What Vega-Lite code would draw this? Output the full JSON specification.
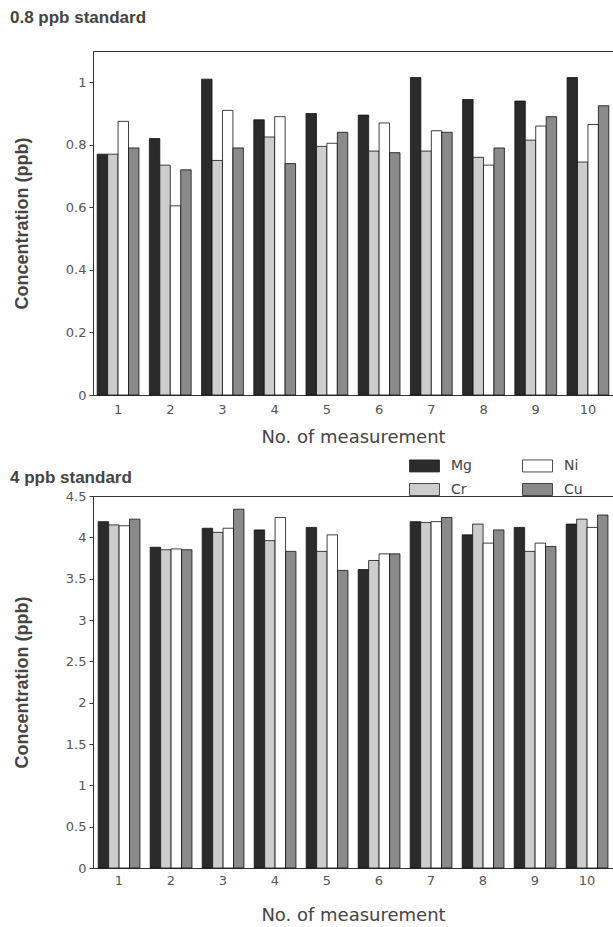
{
  "$schema": "https://vega.github.io/schema/vega-lite/v6.json",
  "autosize": {"type": "pad"},
  "padding": {"left": 9, "top": 8, "right": 0, "bottom": 5},
  "background": "white",
  "spacing": 101,
  "bounds": "flush",
  "resolve": {"scale": {"fill": "independent"}, "legend": {"fill": "independent"}},
  "config": {
    "font": "Liberation Sans",
    "view": {"stroke": "#333", "strokeWidth": 1},
    "axis": {"labelFont": "DejaVu Sans", "titleFont": "Liberation Sans", "labelColor": "#555", "titleColor": "#444", "domainColor": "#333", "tickColor": "#333", "grid": false},
    "title": {"font": "Liberation Sans", "fontSize": 17, "fontWeight": "bold", "color": "#444", "anchor": "start", "frame": "group"}
  },
  "datasets": {
    "low": [
      {"m": 1, "el": "Mg", "v": 0.77}, {"m": 1, "el": "Cr", "v": 0.77}, {"m": 1, "el": "Ni", "v": 0.875}, {"m": 1, "el": "Cu", "v": 0.79},
      {"m": 2, "el": "Mg", "v": 0.82}, {"m": 2, "el": "Cr", "v": 0.735}, {"m": 2, "el": "Ni", "v": 0.605}, {"m": 2, "el": "Cu", "v": 0.72},
      {"m": 3, "el": "Mg", "v": 1.01}, {"m": 3, "el": "Cr", "v": 0.75}, {"m": 3, "el": "Ni", "v": 0.91}, {"m": 3, "el": "Cu", "v": 0.79},
      {"m": 4, "el": "Mg", "v": 0.88}, {"m": 4, "el": "Cr", "v": 0.825}, {"m": 4, "el": "Ni", "v": 0.89}, {"m": 4, "el": "Cu", "v": 0.74},
      {"m": 5, "el": "Mg", "v": 0.90}, {"m": 5, "el": "Cr", "v": 0.795}, {"m": 5, "el": "Ni", "v": 0.805}, {"m": 5, "el": "Cu", "v": 0.84},
      {"m": 6, "el": "Mg", "v": 0.895}, {"m": 6, "el": "Cr", "v": 0.78}, {"m": 6, "el": "Ni", "v": 0.87}, {"m": 6, "el": "Cu", "v": 0.775},
      {"m": 7, "el": "Mg", "v": 1.015}, {"m": 7, "el": "Cr", "v": 0.78}, {"m": 7, "el": "Ni", "v": 0.845}, {"m": 7, "el": "Cu", "v": 0.84},
      {"m": 8, "el": "Mg", "v": 0.945}, {"m": 8, "el": "Cr", "v": 0.76}, {"m": 8, "el": "Ni", "v": 0.735}, {"m": 8, "el": "Cu", "v": 0.79},
      {"m": 9, "el": "Mg", "v": 0.94}, {"m": 9, "el": "Cr", "v": 0.815}, {"m": 9, "el": "Ni", "v": 0.86}, {"m": 9, "el": "Cu", "v": 0.89},
      {"m": 10, "el": "Mg", "v": 1.015}, {"m": 10, "el": "Cr", "v": 0.745}, {"m": 10, "el": "Ni", "v": 0.865}, {"m": 10, "el": "Cu", "v": 0.925}
    ],
    "high": [
      {"m": 1, "el": "Mg", "v": 4.19}, {"m": 1, "el": "Cr", "v": 4.15}, {"m": 1, "el": "Ni", "v": 4.14}, {"m": 1, "el": "Cu", "v": 4.22},
      {"m": 2, "el": "Mg", "v": 3.88}, {"m": 2, "el": "Cr", "v": 3.85}, {"m": 2, "el": "Ni", "v": 3.86}, {"m": 2, "el": "Cu", "v": 3.85},
      {"m": 3, "el": "Mg", "v": 4.11}, {"m": 3, "el": "Cr", "v": 4.06}, {"m": 3, "el": "Ni", "v": 4.11}, {"m": 3, "el": "Cu", "v": 4.34},
      {"m": 4, "el": "Mg", "v": 4.09}, {"m": 4, "el": "Cr", "v": 3.96}, {"m": 4, "el": "Ni", "v": 4.24}, {"m": 4, "el": "Cu", "v": 3.83},
      {"m": 5, "el": "Mg", "v": 4.12}, {"m": 5, "el": "Cr", "v": 3.83}, {"m": 5, "el": "Ni", "v": 4.03}, {"m": 5, "el": "Cu", "v": 3.60},
      {"m": 6, "el": "Mg", "v": 3.61}, {"m": 6, "el": "Cr", "v": 3.72}, {"m": 6, "el": "Ni", "v": 3.80}, {"m": 6, "el": "Cu", "v": 3.80},
      {"m": 7, "el": "Mg", "v": 4.19}, {"m": 7, "el": "Cr", "v": 4.18}, {"m": 7, "el": "Ni", "v": 4.19}, {"m": 7, "el": "Cu", "v": 4.24},
      {"m": 8, "el": "Mg", "v": 4.03}, {"m": 8, "el": "Cr", "v": 4.16}, {"m": 8, "el": "Ni", "v": 3.93}, {"m": 8, "el": "Cu", "v": 4.09},
      {"m": 9, "el": "Mg", "v": 4.12}, {"m": 9, "el": "Cr", "v": 3.83}, {"m": 9, "el": "Ni", "v": 3.93}, {"m": 9, "el": "Cu", "v": 3.89},
      {"m": 10, "el": "Mg", "v": 4.16}, {"m": 10, "el": "Cr", "v": 4.22}, {"m": 10, "el": "Ni", "v": 4.12}, {"m": 10, "el": "Cu", "v": 4.27}
    ]
  },
  "vconcat": [
    {
      "width": 520,
      "height": 344,
      "title": {"text": "0.8 ppb standard", "dx": -83, "offset": 24},
      "data": {"name": "low"},
      "mark": {"type": "bar", "stroke": "#111", "strokeWidth": 0.8},
      "encoding": {
        "x": {"field": "m", "type": "ordinal", "scale": {"paddingInner": 0.2, "paddingOuter": 0.08},
              "axis": {"title": "No. of measurement", "labelAngle": 0, "ticks": false, "labelPadding": 8, "labelFontSize": 13, "titleFont": "DejaVu Sans", "titleFontSize": 18, "titleFontWeight": "normal", "titlePadding": 12}},
        "xOffset": {"field": "el", "type": "nominal", "scale": {"domain": ["Mg", "Cr", "Ni", "Cu"], "paddingInner": 0}},
        "y": {"field": "v", "type": "quantitative", "scale": {"domain": [0, 1.1], "nice": false},
              "axis": {"title": "Concentration (ppb)", "values": [0, 0.2, 0.4, 0.6, 0.8, 1], "format": "~g", "tickSize": 4, "labelPadding": 3, "labelFontSize": 13, "titleFontSize": 18, "titleFontWeight": "bold", "titlePadding": 34}},
        "fill": {"field": "el", "type": "nominal", "scale": {"domain": ["Mg", "Cr", "Ni", "Cu"], "range": ["#2b2b2b", "#cdcdcd", "#ffffff", "#8a8a8a"]}, "legend": null}
      }
    },
    {
      "width": 520,
      "height": 372,
      "title": {"text": "4 ppb standard", "dx": -83, "offset": -37},
      "data": {"name": "high"},
      "mark": {"type": "bar", "stroke": "#111", "strokeWidth": 0.8},
      "encoding": {
        "x": {"field": "m", "type": "ordinal", "scale": {"paddingInner": 0.2, "paddingOuter": 0.1},
              "axis": {"title": "No. of measurement", "labelAngle": 0, "ticks": false, "labelPadding": 6, "labelFontSize": 13, "titleFont": "DejaVu Sans", "titleFontSize": 18, "titleFontWeight": "normal", "titlePadding": 19}},
        "xOffset": {"field": "el", "type": "nominal", "scale": {"domain": ["Mg", "Cr", "Ni", "Cu"], "paddingInner": 0}},
        "y": {"field": "v", "type": "quantitative", "scale": {"domain": [0, 4.5], "nice": false},
              "axis": {"title": "Concentration (ppb)", "values": [0, 0.5, 1, 1.5, 2, 2.5, 3, 3.5, 4, 4.5], "format": "~g", "tickSize": 4, "labelPadding": 3, "labelFontSize": 13, "titleFontSize": 18, "titleFontWeight": "bold", "titlePadding": 34}},
        "fill": {"field": "el", "type": "nominal", "scale": {"domain": ["Mg", "Cr", "Ni", "Cu"], "range": ["#2b2b2b", "#cdcdcd", "#ffffff", "#8a8a8a"]},
                 "legend": {"title": null, "orient": "none", "legendX": 316, "legendY": -46, "direction": "horizontal", "columns": 2, "values": ["Mg", "Ni", "Cr", "Cu"],
                            "symbolType": "M-1,-0.4H1V0.4H-1Z", "symbolSize": 900, "symbolStrokeColor": "#222", "symbolStrokeWidth": 0.8,
                            "labelFont": "DejaVu Sans", "labelFontSize": 14, "labelColor": "#444", "labelOffset": 11, "columnPadding": 48, "rowPadding": -1, "gridAlign": "each"}}
      }
    }
  ]
}
